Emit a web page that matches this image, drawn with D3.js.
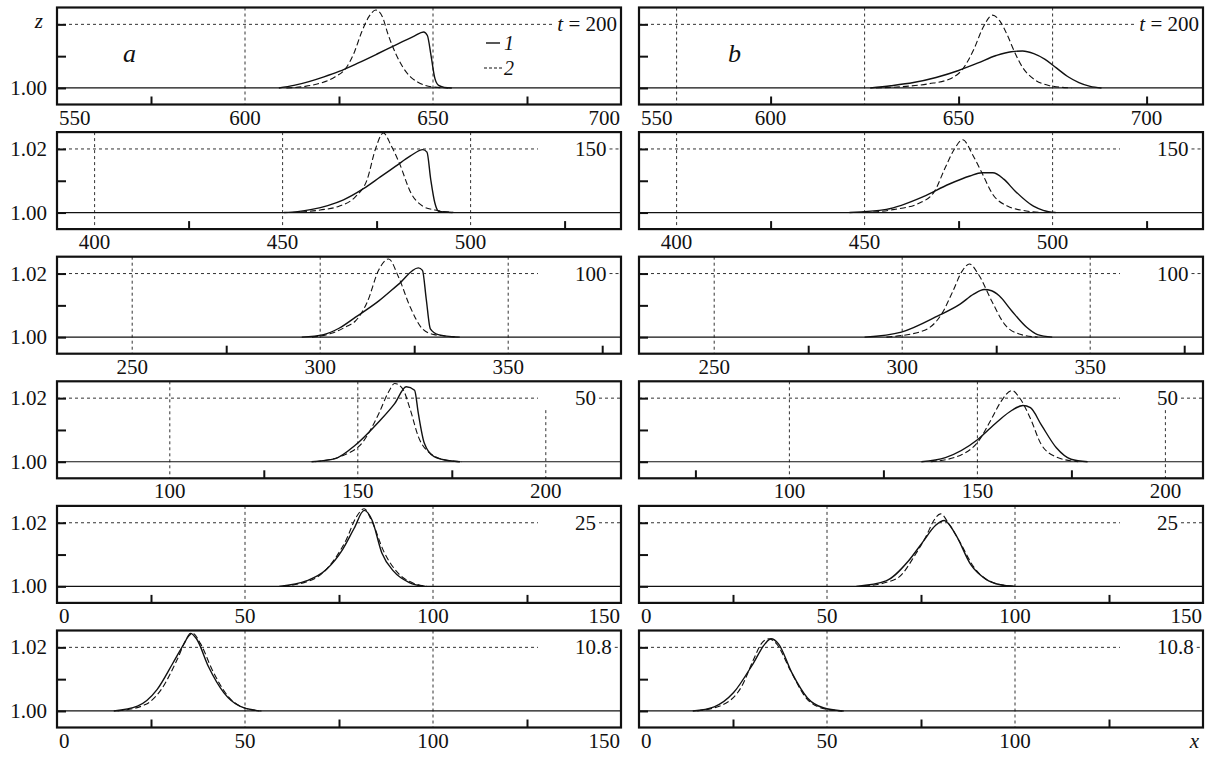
<!DOCTYPE html>
<html>
<head>
<meta charset="utf-8">
<script src="https://cdn.jsdelivr.net/npm/d3@7"></script>
<style>
  body { margin: 0; background: #fff; }
  text { font-family: "Liberation Serif", "DejaVu Serif", serif; fill: #111; }
</style>
</head>
<body>
<div id="chart"></div>
<script>
// time labels, one per row
const timeLabels = ["200", "150", "100", "50", "25", "10.8"];

// x domains per row, column a and column b
const domainsA = [[550, 700], [390, 540], [230, 380], [70, 220], [0, 150], [0, 150]];
const domainsB = [[565, 715], [390, 540], [230, 380], [60, 210], [0, 150], [0, 150]];

// tick labels under each panel
const labelsA = [[550, 600, 650, 700], [400, 450, 500], [250, 300, 350], [100, 150, 200], [0, 50, 100, 150], [0, 50, 100, 150]];
const labelsB = [[550, 600, 650, 700], [400, 450, 500], [250, 300, 350], [100, 150, 200], [0, 50, 100, 150], [0, 50, 100, "x"]];

// dashed vertical grid lines
const gridA = [[600, 650], [400, 450, 500], [250, 300, 350], [100, 150, 200], [50, 100], [50, 100]];
const gridB = [[575, 625, 675], [400, 450, 500], [250, 300, 350], [100, 150, 200], [50, 100], [50, 100]];

// short ticks on the bottom edge
const minorA = [[575, 625, 675], [425, 475, 525], [275, 325, 375], [125, 175], [25, 75, 125], [25, 75, 125]];
const minorB = [[600, 650, 700], [425, 475, 525], [275, 325, 375], [75, 125, 175], [25, 75, 125], [25, 75, 125]];

const zTicks = [1.00, 1.01, 1.02];

// curves: [x, z]   s = line 1 (solid), d = line 2 (dashed)
const a200s = [[609,1.0],[613,1.0008],[617,1.002],[621,1.0035],[625,1.0052],[630,1.0078],[635,1.0106],[640,1.0135],[645,1.0163],[647.5,1.0176],[648.5,1.0165],[649.5,1.010],[650.5,1.003],[651.5,1.0008],[653,1.0002],[655,1.0]];
const a200d = [[611,1.0],[616,1.0005],[620,1.0015],[624,1.0035],[627,1.0065],[629,1.011],[631,1.0175],[633,1.0225],[634.8,1.0245],[636.5,1.0225],[638,1.017],[640,1.011],[642,1.0065],[644,1.0035],[646,1.0018],[648,1.0008],[650,1.0003],[654,1.0]];
const b200s = [[626.5,1.0],[632,1.0007],[638,1.0017],[644,1.0033],[650,1.0055],[655,1.0078],[660,1.0102],[664,1.0114],[667,1.0116],[670,1.0108],[673,1.009],[676,1.0063],[679,1.0036],[682,1.0017],[685,1.0005],[688,1.0]];
const b200d = [[628,1.0],[636,1.0005],[642,1.0013],[648,1.003],[651,1.0058],[654,1.012],[656.5,1.019],[659,1.0229],[661,1.021],[663,1.0165],[665,1.011],[667,1.0065],[670,1.0028],[674,1.0008],[680,1.0]];

const a150s = [[450.4,1.0],[454,1.0003],[457.8,1.001],[462,1.0022],[466.2,1.004],[471.5,1.0075],[476,1.0112],[480,1.0145],[484,1.0178],[487.3,1.0198],[488.4,1.019],[489.4,1.0104],[490.5,1.003],[491.5,1.0004],[495.2,1.0]];
const a150d = [[452.5,1.0],[460,1.0008],[465,1.002],[469.4,1.005],[472.5,1.0104],[474.7,1.02],[476.8,1.025],[478.9,1.021],[481,1.0157],[484.2,1.006],[487.3,1.002],[490.5,1.0008],[495.8,1.0]];
const b150s = [[446,1.0],[455.8,1.001],[465.6,1.005],[472.4,1.0089],[478,1.0115],[481.2,1.0125],[484.1,1.0125],[487,1.0105],[490,1.0068],[494.9,1.002],[497.5,1.0007],[500.8,1.0]];
const b150d = [[449.9,1.0],[458,1.001],[464.6,1.003],[468.5,1.0065],[471.4,1.014],[473.9,1.02],[476.1,1.0229],[478.8,1.018],[481.2,1.0125],[484.1,1.0057],[488.1,1.002],[493,1.0005],[497.8,1.0]];

const a100s = [[295.1,1.0],[300.9,1.0008],[305,1.0028],[309.3,1.0062],[315.6,1.0114],[320.8,1.0166],[326.1,1.0218],[327.2,1.021],[328.2,1.012],[329.3,1.0026],[331.4,1.0008],[336.6,1.0]];
const a100d = [[297.8,1.0],[303,1.0012],[307.2,1.0035],[309.3,1.005],[312.5,1.011],[315.6,1.0212],[318.2,1.0246],[320.8,1.019],[324,1.0093],[327.2,1.0026],[330.3,1.0008],[337.1,1.0]];
const b100s = [[290,1.0],[299.8,1.0016],[309.5,1.0067],[315.4,1.0104],[319,1.0135],[321.8,1.015],[323.8,1.0146],[325.8,1.013],[329.1,1.0083],[333.1,1.0031],[336,1.0008],[339.9,1.0]];
const b100d = [[295.8,1.0],[305.6,1.002],[310.5,1.0073],[313.5,1.0145],[315.9,1.0207],[317.9,1.023],[320.3,1.0197],[323.8,1.0114],[327.2,1.0041],[331.1,1.001],[336,1.0]];

const a50s = [[137.7,1.0],[144,1.001],[149.3,1.0052],[155.6,1.0126],[159.8,1.0183],[162.9,1.0236],[165.1,1.0225],[166.1,1.0152],[167.7,1.0058],[170.3,1.0016],[174.5,1.0003],[177.2,1.0]];
const a50d = [[138.7,1.0],[146.1,1.002],[151.4,1.0063],[155.6,1.0152],[158.2,1.022],[159.8,1.0246],[161.9,1.023],[164,1.0162],[166.1,1.0079],[169.3,1.0026],[173.5,1.0005],[177.7,1.0]];
const b50s = [[135.1,1.0],[141.5,1.0013],[150.1,1.007],[155.3,1.0126],[159.2,1.0162],[162.1,1.0177],[164.1,1.017],[167,1.0116],[171,1.0044],[174.9,1.0008],[179.3,1.0]];
const b50d = [[137.6,1.0],[145.4,1.002],[150.3,1.0065],[153.8,1.0136],[156.2,1.0188],[159.2,1.0224],[161.1,1.0203],[164.1,1.0136],[167,1.0054],[171,1.0015],[176.8,1.0]];

const a25s = [[59.1,1.0],[66.5,1.0018],[71.7,1.0054],[75.9,1.0115],[79,1.0182],[81.7,1.0239],[83.8,1.0208],[86.4,1.0105],[89.5,1.0048],[93.7,1.0012],[97.9,1.0]];
const a25d = [[60.2,1.0],[68.6,1.0025],[73.8,1.0085],[76.9,1.0146],[79.6,1.0218],[81.7,1.0244],[83.8,1.0203],[86.9,1.011],[90.6,1.0043],[94.8,1.001],[98.4,1.0]];
const b25s = [[57.8,1.0],[65.7,1.0017],[71.6,1.0079],[75.5,1.014],[78.9,1.0192],[81.2,1.0207],[84.3,1.0161],[88.2,1.0069],[92.2,1.0023],[96.1,1.0005],[100,1.0]];
const b25d = [[59.8,1.0],[68.6,1.0025],[73.5,1.01],[76.5,1.0161],[78.4,1.0207],[80.2,1.0228],[82.4,1.0197],[85.3,1.014],[89.2,1.0058],[94.1,1.0012],[99.5,1.0]];

const a11s = [[15.1,1.0],[21.4,1.0015],[26.6,1.0067],[30.8,1.015],[34,1.0216],[35.5,1.0244],[37.1,1.0227],[40.3,1.0139],[44.4,1.0057],[48.6,1.0015],[53.9,1.0]];
const a11d = [[16.1,1.0],[23.5,1.002],[27.7,1.0067],[31.9,1.016],[34.5,1.0227],[36.1,1.0244],[38.2,1.0211],[41.3,1.0129],[45.5,1.0046],[49.7,1.001],[54.4,1.0]];
const b11s = [[14.3,1.0],[20,1.0013],[25.1,1.0057],[30.4,1.015],[33.5,1.0211],[35.1,1.0227],[37.1,1.0211],[40.7,1.0119],[44.8,1.0041],[49,1.001],[54.1,1.0]];
const b11d = [[15.5,1.0],[23.2,1.0025],[27.3,1.0077],[30.4,1.016],[32.5,1.0211],[34.5,1.0227],[36.6,1.0211],[40.2,1.0129],[44.8,1.0036],[50,1.0005],[54.6,1.0]];

const curvesA = [[a200s, a200d], [a150s, a150d], [a100s, a100d], [a50s, a50d], [a25s, a25d], [a11s, a11d]];
const curvesB = [[b200s, b200d], [b150s, b150d], [b100s, b100d], [b50s, b50d], [b25s, b25d], [b11s, b11d]];

const width = 1206, height = 758;
const cols = [{ left: 57, right: 621 }, { left: 639, right: 1203 }];
const rowStep = 124.6, frameH = 97, firstTop = 7.5;

const svg = d3.select("#chart").append("svg")
  .attr("width", width).attr("height", height)
  .attr("viewBox", [0, 0, width, height]);

function drawPanel(c, r) {
  const col = cols[c];
  const top = firstTop + r * rowStep, bottom = top + frameH;
  const dom = c === 0 ? domainsA[r] : domainsB[r];
  const x = d3.scaleLinear().domain(dom).range([col.left, col.right]);
  const y = d3.scaleLinear().domain([0.9948, 1.0253]).range([bottom, top]);
  const g = svg.append("g");
  const hEnd = col.right - 83;

  // vertical dashed grid
  (c === 0 ? gridA[r] : gridB[r]).forEach(v => {
    const gx = x(v);
    g.append("line")
      .attr("x1", gx).attr("x2", gx)
      .attr("y1", (r > 0 && gx > hEnd) ? y(1.02) + 12 : top).attr("y2", bottom)
      .attr("stroke", "#333").attr("stroke-width", 1).attr("stroke-dasharray", "3,3");
  });

  // time label and the dashed line at z = 1.02
  const lab = g.append("text").attr("font-size", 21).attr("y", y(1.02) + 7);
  let lineEnd = hEnd;
  if (r === 0) {
    lab.attr("text-anchor", "end").attr("x", col.right - 4);
    lab.append("tspan").attr("font-style", "italic").text("t");
    lab.append("tspan").text(" = " + timeLabels[r]);
    lineEnd = lab.node().getBBox().x - 5;
  } else {
    lab.attr("x", col.right - 46).text(timeLabels[r]);
    const bb = lab.node().getBBox();
    g.append("line")
      .attr("x1", bb.x + bb.width + 3).attr("x2", col.right)
      .attr("y1", y(1.02)).attr("y2", y(1.02))
      .attr("stroke", "#333").attr("stroke-width", 1).attr("stroke-dasharray", "3,3");
  }
  g.append("line")
    .attr("x1", col.left).attr("x2", lineEnd)
    .attr("y1", y(1.02)).attr("y2", y(1.02))
    .attr("stroke", "#333").attr("stroke-width", 1).attr("stroke-dasharray", "3,3");

  // baseline z = 1.00
  g.append("line")
    .attr("x1", col.left).attr("x2", col.right)
    .attr("y1", y(1)).attr("y2", y(1))
    .attr("stroke", "#111").attr("stroke-width", 1.2);

  // curves
  const line = d3.line().x(d => x(d[0])).y(d => y(d[1])).curve(d3.curveMonotoneX);
  const [s, d] = c === 0 ? curvesA[r] : curvesB[r];
  g.append("path").datum(d).attr("d", line)
    .attr("fill", "none").attr("stroke", "#111").attr("stroke-width", 1.1).attr("stroke-dasharray", "6,3");
  g.append("path").datum(s).attr("d", line)
    .attr("fill", "none").attr("stroke", "#111").attr("stroke-width", 1.4);

  // z ticks (inward)
  g.append("g")
    .attr("transform", `translate(${col.left},0)`)
    .call(d3.axisLeft(y).tickValues(zTicks).tickSize(-9).tickFormat(""))
    .call(a => a.select(".domain").remove())
    .call(a => a.selectAll("line").attr("stroke", "#111").attr("stroke-width", 2));

  // short x ticks on bottom edge
  g.append("g")
    .attr("transform", `translate(0,${bottom})`)
    .call(d3.axisBottom(x).tickValues(c === 0 ? minorA[r] : minorB[r]).tickSize(-8).tickFormat(""))
    .call(a => a.select(".domain").remove())
    .call(a => a.selectAll("line").attr("stroke", "#111").attr("stroke-width", 2));

  // frame
  g.append("rect")
    .attr("x", col.left).attr("y", top)
    .attr("width", col.right - col.left).attr("height", frameH)
    .attr("fill", "none").attr("stroke", "#111").attr("stroke-width", 2.2);

  // z labels on the left column
  if (c === 0) {
    const zl = g.append("text").attr("text-anchor", "end").attr("x", col.left - 10).attr("font-size", 21);
    if (r === 0) {
      zl.attr("y", y(1.02) + 4).attr("x", col.left - 14).attr("font-style", "italic").text("z");
    } else {
      zl.attr("y", y(1.02) + 7).text("1.02");
    }
    g.append("text").attr("text-anchor", "end").attr("x", col.left - 10)
      .attr("y", y(1) + 7).attr("font-size", 21).text("1.00");
  }

  // x labels below, kept inside the frame width
  (c === 0 ? labelsA[r] : labelsB[r]).forEach(v => {
    const t = g.append("text").attr("font-size", 21).attr("y", bottom + 20);
    if (v === "x") {
      t.attr("font-style", "italic").attr("text-anchor", "end").attr("x", col.right - 4).text("x");
      return;
    }
    t.attr("text-anchor", "middle").attr("x", x(v)).text(v);
    const bb = t.node().getBBox();
    if (bb.x < col.left + 2) t.attr("text-anchor", "start").attr("x", col.left + 2);
    else if (bb.x + bb.width > col.right - 1) t.attr("text-anchor", "end").attr("x", col.right - 1);
  });
}

for (let r = 0; r < 6; r++) {
  drawPanel(0, r);
  drawPanel(1, r);
}

// panel letters
svg.append("text").attr("x", 123).attr("y", 62).attr("font-size", 26).attr("font-style", "italic").text("a");
svg.append("text").attr("x", 728).attr("y", 62).attr("font-size", 26).attr("font-style", "italic").text("b");

// legend
const legend = svg.append("g");
legend.append("line").attr("x1", 486).attr("x2", 500).attr("y1", 43).attr("y2", 43)
  .attr("stroke", "#111").attr("stroke-width", 1.4);
legend.append("text").attr("x", 504).attr("y", 50).attr("font-size", 20).attr("font-style", "italic").text("1");
legend.append("line").attr("x1", 484).attr("x2", 502).attr("y1", 68).attr("y2", 68)
  .attr("stroke", "#111").attr("stroke-width", 1.1).attr("stroke-dasharray", "3,2");
legend.append("text").attr("x", 504).attr("y", 75).attr("font-size", 20).attr("font-style", "italic").text("2");
</script>
</body>
</html>
